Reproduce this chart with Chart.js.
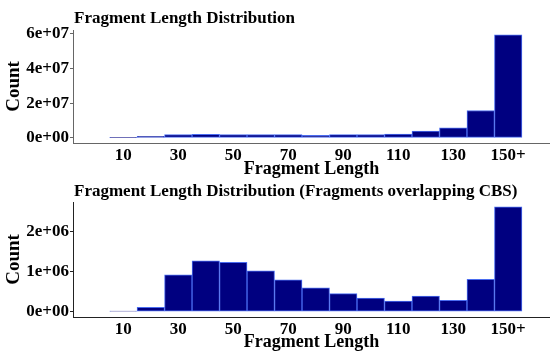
<!DOCTYPE html>
<html>
<head>
<meta charset="utf-8">
<script src="https://cdn.jsdelivr.net/npm/chart.js@4.4.1/dist/chart.umd.min.js"></script>
<style>
    body { margin: 0; background: #fff; }
    #wrap { position: relative; width: 550px; height: 351px; }
    canvas { position: absolute; left: 0; }
</style>
</head>
<body>
<div id="wrap">
    <canvas id="chartTodos" width="550" height="178" style="top:0px"></canvas>
    <canvas id="chartCBS" width="550" height="176" style="top:175px"></canvas>
</div>
<script>
// Datos del histograma (bins de 10 pb, el último es 150+)
const binStarts = [10, 20, 30, 40, 50, 60, 70, 80, 90, 100, 110, 120, 130, 140, 150];
const xTickValues = [10, 30, 50, 70, 90, 110, 130, 150];
const countsAll = [0.25e6, 0.8e6, 1.9e6, 2.0e6, 1.9e6, 1.9e6, 1.9e6, 1.45e6, 1.8e6, 1.9e6, 2.2e6, 3.9e6, 5.7e6, 15.8e6, 59.5e6];
const countsCBS = [0.02e6, 0.109e6, 0.925e6, 1.278e6, 1.236e6, 1.026e6, 0.798e6, 0.597e6, 0.454e6, 0.345e6, 0.269e6, 0.395e6, 0.286e6, 0.815e6, 2.63e6];
const yTicksAll = [0, 2e7, 4e7, 6e7];
const yTicksCBS = [0, 1e6, 2e6];

const FONT = "'Liberation Serif', 'Times New Roman', serif";

// Formato tipo R: 6e+07
function sci(v) {
    if (v === 0) return "0e+00";
    const e = Math.floor(Math.log10(Math.abs(v)) + 1e-9);
    const m = Math.round(v / Math.pow(10, e) * 100) / 100;
    return m + "e+" + String(e).padStart(2, "0");
}

// Título alineado con el eje y (como ggplot)
const panelTitle = {
    id: "panelTitle",
    afterDraw(chart, args, opts) {
        const ctx = chart.ctx;
        ctx.save();
        ctx.font = "bold 17px " + FONT;
        ctx.fillStyle = "#000";
        ctx.textBaseline = "alphabetic";
        ctx.textAlign = "left";
        ctx.fillText(opts.text, chart.chartArea.left + 1, opts.y);
        ctx.restore();
    }
};

function createChart(id, title, counts, yTicks, yMin, yMax, cfg) {
    const ctx = document.getElementById(id).getContext("2d");
    return new Chart(ctx, {
        type: "bar",
        data: {
            datasets: [{
                data: binStarts.map((b, i) => ({ x: b, y: counts[i] })),
                backgroundColor: "#000080",
                borderColor: "#4a6cf0",
                borderWidth: 1,
                borderSkipped: false,
                barPercentage: 1.0,
                categoryPercentage: 1.0
            }]
        },
        plugins: [panelTitle],
        options: {
            responsive: false,
            animation: false,
            layout: { padding: { top: cfg.padTop, right: 0, bottom: 0, left: 0 } },
            plugins: {
                legend: { display: false },
                tooltip: { enabled: false },
                panelTitle: { text: title, y: cfg.titleY }
            },
            scales: {
                x: {
                    type: "linear",
                    offset: false,
                    min: -8.3,
                    max: 165.2,
                    grid: { display: false, drawTicks: false },
                    border: { display: true, color: cfg.axisColor, width: 1 },
                    afterBuildTicks: s => { s.ticks = xTickValues.map(v => ({ value: v })); },
                    afterFit: s => { s.height = cfg.xHeight; },
                    ticks: {
                        padding: 2,
                        maxRotation: 0,
                        autoSkip: false,
                        color: "#000",
                        font: { family: FONT, size: 17, weight: "bold" },
                        callback: v => (v === 150 ? "150+" : String(v))
                    },
                    title: {
                        display: true,
                        text: "Fragment Length",
                        color: "#000",
                        padding: 0,
                        font: { family: FONT, size: 18, weight: "bold", lineHeight: 1.0 }
                    }
                },
                y: {
                    min: yMin,
                    max: yMax,
                    grid: { display: true, drawOnChartArea: false, drawTicks: true, tickLength: 3, color: cfg.axisColor },
                    border: { display: true, color: cfg.axisColor, width: 1 },
                    afterBuildTicks: s => { s.ticks = yTicks.map(v => ({ value: v })); },
                    afterFit: s => { s.width = 73; },
                    ticks: {
                        padding: 1,
                        color: "#000",
                        font: { family: FONT, size: 17, weight: "bold" },
                        callback: v => sci(v)
                    },
                    title: {
                        display: true,
                        text: "Count",
                        color: "#000",
                        padding: { top: 3, bottom: 0 },
                        font: { family: FONT, size: 19, weight: "bold" }
                    }
                }
            }
        }
    });
}

createChart("chartTodos", "Fragment Length Distribution", countsAll, yTicksAll, -3.0e6, 62.3e6,
    { padTop: 30, titleY: 23, xHeight: 35, axisColor: "#666" });
createChart("chartCBS", "Fragment Length Distribution (Fragments overlapping CBS)", countsCBS, yTicksCBS, -0.131e6, 2.75e6,
    { padTop: 27, titleY: 21, xHeight: 34, axisColor: "#222" });
</script>
</body>
</html>
